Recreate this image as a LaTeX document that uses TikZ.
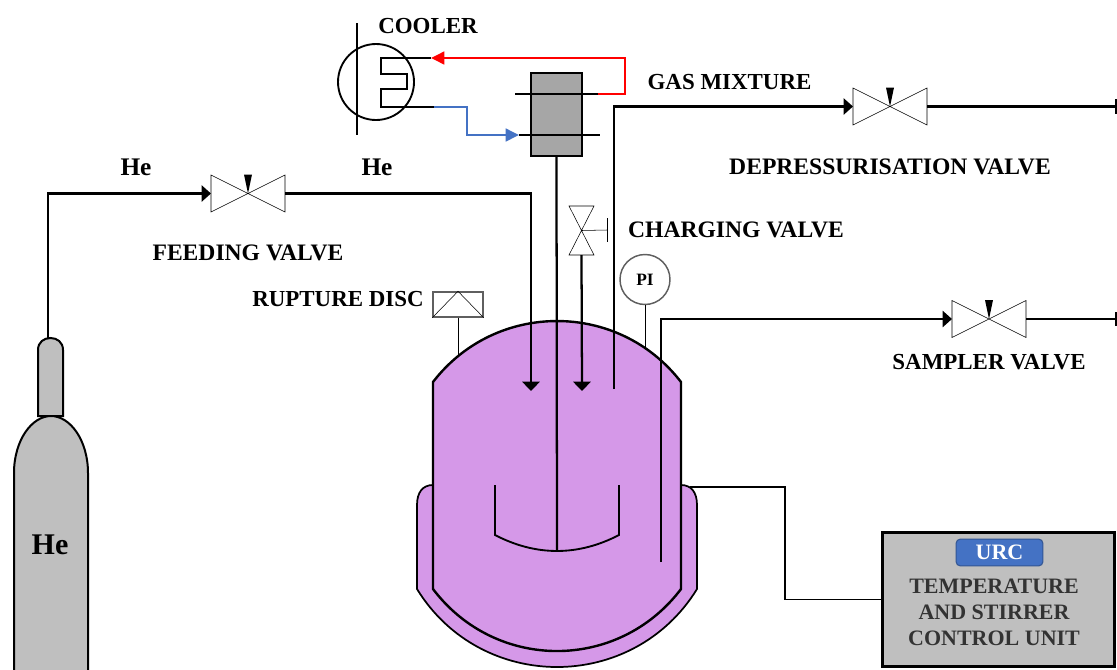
\documentclass[tikz,border=0pt]{standalone}
\usepackage{fontspec}
\setmainfont{Liberation Serif}
\usetikzlibrary{arrows.meta,calc}
\definecolor{pinkfill}{RGB}{213,152,232}
\definecolor{cylgray}{RGB}{191,191,191}
\definecolor{boxgray}{RGB}{166,166,166}
\definecolor{urcblue}{RGB}{68,114,196}
\definecolor{thin}{RGB}{95,95,95}
\tikzset{
  lab/.style={font=\fontsize{17.7}{19}\selectfont\bfseries,text=black,inner sep=0pt},
  labb/.style={font=\fontsize{17.2}{19}\selectfont\bfseries,text=black,inner sep=0pt},
  hegas/.style={font=\fontsize{19}{20}\selectfont\bfseries,text=black,inner sep=0pt},
  unittext/.style={font=\fontsize{16.5}{19.5}\selectfont\bfseries,text=black!80,align=center,inner sep=0pt},
  pipe/.style={line width=1.7pt,black},
  thinpipe/.style={line width=1.2pt,thin},
  vesselline/.style={line width=1.8pt,black},
  jacketline/.style={line width=1.3pt,black},
  flowtip/.style={-{Triangle[length=7pt,width=12pt]}},
  downtip/.style={-{Triangle[length=7pt,width=13pt]}},
  coldtip/.style={-{Triangle[length=10pt,width=9.5pt]}},
  hvalve/.style={minimum width=55.5pt,minimum height=27.75pt,inner sep=0pt,outer sep=0pt},
  vvalve/.style={minimum width=18.75pt,minimum height=36.75pt,inner sep=0pt,outer sep=0pt},
  valvebody/.style={line width=1.1pt,thin,fill=white},
}
\newcommand{\hvalveat}[3]{%
  \node[hvalve] (#1) at (#2,#3) {};
  \draw[valvebody,line join=miter] (#1.north west) -- (#1.south east) -- (#1.north east) -- (#1.south west) -- cycle;
  \fill[black] (#1.center) ++(-4,-19) -- ++(8,0) -- (#1.center) -- cycle;
}
\begin{document}
\begin{tikzpicture}[x=0.75pt,y=-0.75pt]
\useasboundingbox (0,0) rectangle (1117,669);
\clip (0,0) rectangle (1117,669);
% cylinder
\draw[line width=1.5pt,fill=cylgray] (38,416) -- (38,350) .. controls (38,342) and (44,338) .. (50.5,338) .. controls (57,338) and (63,342) .. (63,350) -- (63,416) -- cycle;
\draw[line width=1.5pt,fill=cylgray] (14,690) -- (14,473) .. controls (14,440) and (32,416) .. (51,416) .. controls (70,416) and (88,440) .. (88,473) -- (88,690) -- cycle;
\node[font=\fontsize{22.5}{24}\selectfont\bfseries,inner sep=0pt] (helabel) at (50,545) {He};
% jacket and vessel
\draw[jacketline,fill=pinkfill] (433,485) .. controls (423,485) and (417,492) .. (417,505) -- (417,589) .. controls (481,693) and (633,693) .. (697,589) -- (697,505) .. controls (697,492) and (691,485) .. (681,485) -- cycle;
\draw[vesselline,fill=pinkfill] (433,382) .. controls (495.6,300.7) and (618.4,300.7) .. (681,382) -- (681,589) .. controls (618.4,671.7) and (495.6,671.7) .. (433,589) -- cycle;
\draw[line width=1.4pt] (495,485) -- (495,535) .. controls (536,556.3) and (578,556.3) .. (619,535) -- (619,485);
% cooler
\node[draw,circle,line width=1.4pt,minimum size=57pt,inner sep=0pt] (cooler) at (376,82) {};
\coordinate (barT) at (357,23); \coordinate (barB) at (357,135);
\draw[line width=1.4pt] (barT) -- (barB);
\coordinate (coilT) at (431,58); \coordinate (coilB) at (434,107);
\draw[line width=1.4pt] (coilT) -- (381,58) -- (381,74) -- (407,74) -- (407,89) -- (381,89) -- (381,107) -- (coilB);
% condenser
\node[draw,line width=1.8pt,fill=boxgray,minimum width=38.25pt,minimum height=62.25pt,inner sep=0pt] (cond) at (556.5,114.5) {};
\coordinate (condA) at (515,94); \coordinate (condB) at (598,94);
\coordinate (condC) at (519,135); \coordinate (condD) at (600,135);
\draw[pipe] (condA) -- (condB);
\draw[pipe] (condC) -- (condD);
\draw[line width=1.9pt,red,coldtip] (condB) -- (625,94) -- (625,58) -- (coilT);
\draw[line width=1.9pt,urcblue,coldtip] (coilB) -- (467,107) -- (467,135) -- (condC);
% stirrer shaft
\coordinate (paddle) at (557,551);
\draw[pipe] (cond.south) -- (paddle);
% valves
\hvalveat{feed}{248}{193.5}
\hvalveat{depr}{890}{106.5}
\hvalveat{samp}{989}{319}
% helium line
\coordinate (heend) at (531,391);
\coordinate (neckTop) at (48,338);
\draw[pipe,flowtip] (neckTop) -- (48,193.5) -- (feed.west);
\draw[pipe,downtip] (feed.east) -- (531,193.5) -- (heend);
% gas mixture
\coordinate (gasstart) at (614,389);
\draw[pipe,flowtip] (gasstart) -- (614,106.5) -- (depr.west);
\coordinate (deprend) at (1116,106.5);
\draw[pipe] (depr.east) -- (deprend);
\draw[pipe] (1116.5,99) -- (1116.5,114);
% sampler
\coordinate (tube) at (661,562);
\draw[pipe,flowtip] (tube) -- (661,319) -- (samp.west);
\coordinate (sampend) at (1116,319);
\draw[pipe] (samp.east) -- (sampend);
\draw[pipe] (1116.5,312) -- (1116.5,326);
% charging valve
\node[vvalve] (chg) at (581.5,230.5) {};
\draw[valvebody] (chg.north west) -- (chg.north east) -- (chg.south west) -- (chg.south east) -- cycle;
\coordinate (hand) at (607,230);
\draw[line width=1.1pt,thin] (chg.center) -- (hand);
\draw[line width=1.1pt,thin] (607,218) -- (607,242);
\coordinate (chgend) at (582,391);
\draw[pipe,downtip] (chg.south) -- (chgend);
% PI
\node[draw=thin,circle,line width=1.1pt,minimum size=37.5pt,inner sep=0pt,font=\fontsize{13}{14}\selectfont\bfseries] (pi) at (645,279.5) {PI};
\coordinate (pitap) at (645,347);
\draw[thinpipe] (pi.south) -- (pitap);
% rupture disc
\node[draw=thin,line width=1.1pt,minimum width=37.5pt,minimum height=18.75pt,inner sep=0pt] (disc) at (458,304.5) {};
\draw[line width=1.1pt,thin] (disc.south west) -- (disc.north) -- (disc.south east);
\coordinate (disctap) at (458,355);
\draw[thinpipe] (disc.south) -- (disctap);
% control unit
\node[draw,line width=2.1pt,fill=cylgray,minimum width=173.5pt,minimum height=100.5pt,inner sep=0pt] (unit) at (998.5,599.5) {};
\node[draw=urcblue!75!black,line width=0.8pt,fill=urcblue,rounded corners=3pt,minimum width=65pt,minimum height=20pt,inner sep=0pt,text=white,font=\fontsize{16.5}{18}\selectfont\bfseries] (urc) at (999.5,552.5) {URC};
\node[unittext] (unittxt) at (994,612) {TEMPERATURE\\AND STIRRER\\CONTROL UNIT};
\coordinate (jacketout) at (690,487);
\draw[line width=1.2pt] (jacketout) -- (785,487) -- (785,599.5) -- (unit.west);
% labels
\node[labb] (l1) at (428,26) {COOLER};
\node[labb] (l2) at (729.5,82) {GAS MIXTURE};
\node[lab] (l3) at (890,167) {DEPRESSURISATION VALVE};
\node[lab] (l4) at (248,253) {FEEDING VALVE};
\node[lab] (l5) at (736,230) {CHARGING VALVE};
\node[labb] (l6) at (338,299) {RUPTURE DISC};
\node[labb] (l7) at (989,362) {SAMPLER VALVE};
\node[hegas] (he1) at (136,167) {He};
\node[hegas] (he2) at (377,167) {He};
\end{tikzpicture}
\end{document}
